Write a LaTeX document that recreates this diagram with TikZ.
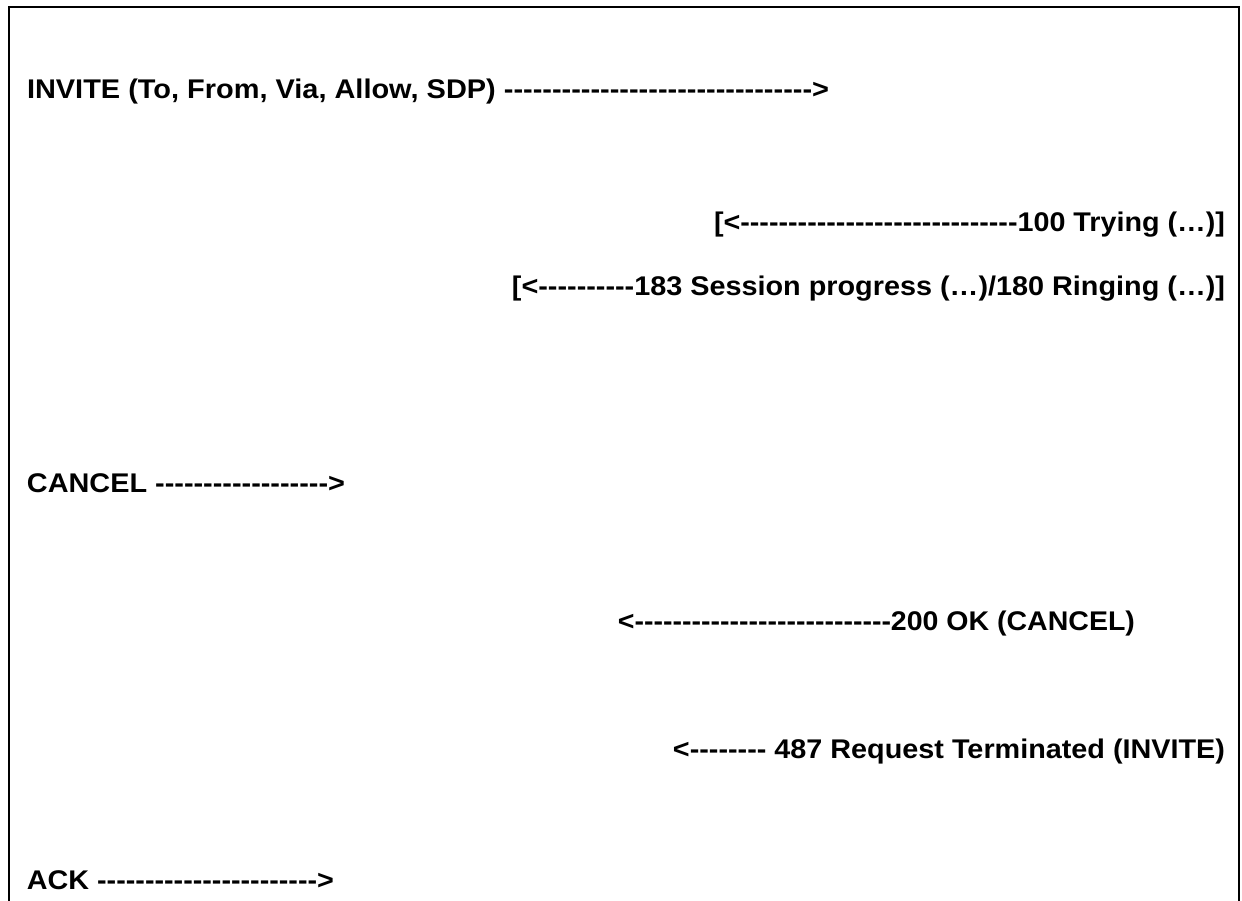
\documentclass[tikz,border=0pt]{standalone}
\usepackage{fontspec}
\setmainfont{Liberation Sans}
\usepackage{graphicx}
\tikzset{
  msg/.style={inner sep=0pt, outer sep=0pt, font=\fontsize{27}{27}\selectfont\bfseries},
  frameline/.style={line width=2pt, black}
}
\newcommand{\fitw}[2]{\resizebox{#1}{\height}{#2}}
\newcommand{\hy}[1]{\foreach \i in {1,...,#1}{-\kern0pt}}
\begin{document}
\begin{tikzpicture}[x=1pt,y=-1pt]
\useasboundingbox (0,0) rectangle (1242,900);
\fill[white] (0,0) rectangle (1242,900);
\draw[frameline] (9,901) -- (9,7) -- (1239,7) -- (1239,901);
\node[msg, anchor=base west] (l1) at (27,98) {\fitw{802pt}{INVITE (To, From, Via, Allow, SDP) \hy{32}>}};
\node[msg, anchor=base east] (l2) at (1225,231) {\fitw{511pt}{[<\hy{29}100 Trying (…)]}};
\node[msg, anchor=base east] (l3) at (1225,295) {\fitw{713pt}{[<\hy{10}183 Session progress (…)/180 Ringing (…)]}};
\node[msg, anchor=base west] (l4) at (27,492) {\fitw{318pt}{CANCEL \hy{18}>}};
\node[msg, anchor=base east] (l5) at (1135,630) {\fitw{517pt}{<\hy{27}200 OK (CANCEL)}};
\node[msg, anchor=base east] (l6) at (1225,758) {\fitw{552pt}{<\hy{8} 487 Request Terminated (INVITE)}};
\node[msg, anchor=base west] (l7) at (27,889) {\fitw{307pt}{ACK \hy{23}>}};
\end{tikzpicture}
\end{document}
